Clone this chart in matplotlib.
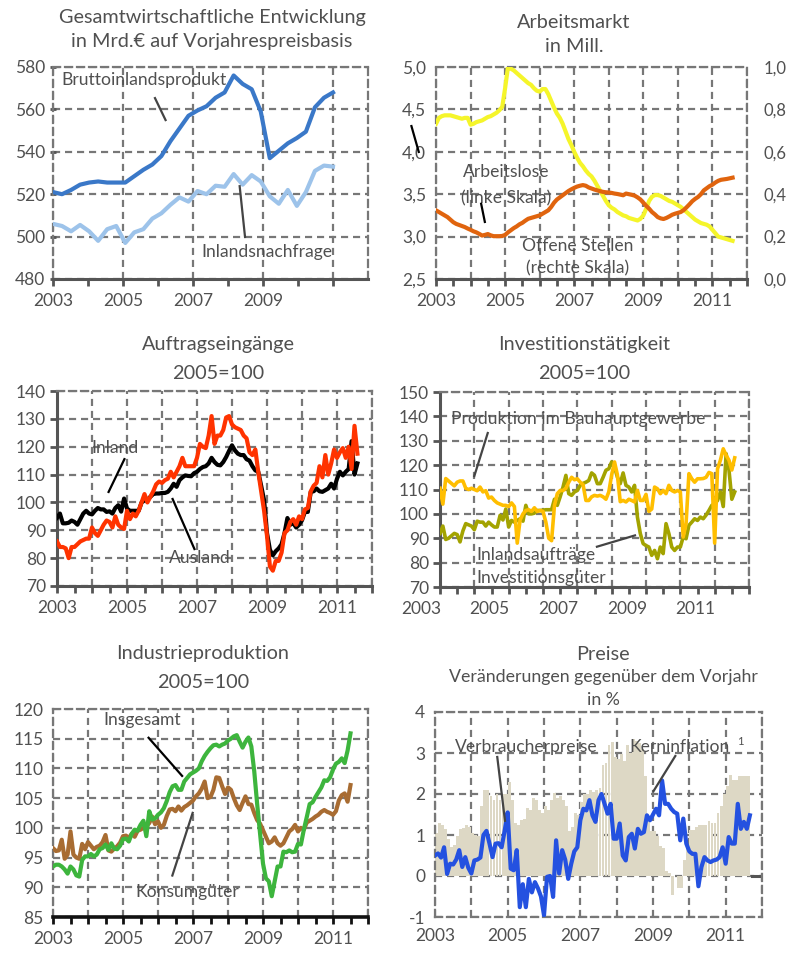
import numpy as np
import matplotlib
matplotlib.use("Agg")
import matplotlib.pyplot as plt
import matplotlib.transforms as mtrans

# ---------------- data ----------------
# Panel 1: quarterly 2003Q1..2010Q4, Mrd. EUR
bip = [521, 520, 522, 524.5, 525.5, 526, 525.5, 525.5, 525.5, 528.5, 531.5, 534,
       538, 545, 551, 557, 559.5, 561.5, 565.5, 568, 576, 572, 569.5, 559,
       537, 540.5, 544, 546.5, 549.5, 561, 565.5, 568]
inlandsnachfrage = [506, 505, 502.5, 505.5, 502.5, 498, 503.5, 505, 497, 502, 503.5, 508.5,
                    511, 515, 518.5, 516.5, 521.5, 520, 524, 523.5, 529.5, 524.5, 529, 526,
                    519, 515.5, 522, 514.5, 521, 531, 533.5, 533]

# Panel 2: monthly from Jan 2003, Mill.
arbeitslose = [4.33, 4.40, 4.42, 4.43, 4.43, 4.43, 4.42, 4.41, 4.40, 4.39, 4.40, 4.40,
               4.32, 4.33, 4.35, 4.36, 4.37, 4.39, 4.41, 4.42, 4.44, 4.46, 4.49, 4.53,
               4.75, 5.00, 4.98, 4.96, 4.93, 4.90, 4.87, 4.84, 4.81, 4.79, 4.75, 4.72,
               4.71, 4.74, 4.74, 4.68, 4.60, 4.52, 4.45, 4.40, 4.33, 4.24, 4.15, 4.08,
               4.00, 3.93, 3.87, 3.83, 3.78, 3.74, 3.71, 3.66, 3.60, 3.54, 3.48, 3.42,
               3.37, 3.34, 3.32, 3.29, 3.27, 3.25, 3.24, 3.22, 3.21, 3.20, 3.19, 3.21,
               3.25, 3.33, 3.42, 3.47, 3.49, 3.49, 3.48, 3.46, 3.44, 3.42, 3.41, 3.39,
               3.37, 3.35, 3.32, 3.29, 3.26, 3.23, 3.20, 3.18, 3.16, 3.15, 3.14, 3.12,
               3.08, 3.04, 3.00, 2.99, 2.98, 2.97, 2.96, 2.95]
offene_stellen = [0.324, 0.316, 0.308, 0.300, 0.292, 0.280, 0.268, 0.260, 0.255, 0.250, 0.245, 0.238,
                  0.232, 0.225, 0.220, 0.213, 0.205, 0.208, 0.212, 0.206, 0.202, 0.202, 0.202, 0.203,
                  0.208, 0.220, 0.230, 0.240, 0.248, 0.258, 0.265, 0.275, 0.284, 0.288, 0.292, 0.296,
                  0.300, 0.308, 0.316, 0.324, 0.340, 0.360, 0.375, 0.385, 0.395, 0.405, 0.415, 0.423,
                  0.430, 0.436, 0.440, 0.443, 0.440, 0.432, 0.427, 0.422, 0.418, 0.414, 0.411, 0.409,
                  0.408, 0.406, 0.403, 0.401, 0.398, 0.395, 0.403, 0.400, 0.397, 0.393, 0.385, 0.375,
                  0.360, 0.345, 0.332, 0.316, 0.305, 0.292, 0.286, 0.283, 0.288, 0.295, 0.303, 0.308,
                  0.312, 0.316, 0.325, 0.338, 0.352, 0.367, 0.378, 0.387, 0.400, 0.418, 0.428, 0.438,
                  0.445, 0.455, 0.463, 0.468, 0.470, 0.472, 0.475, 0.478]

# Panel 3: monthly, 2005=100
auftr_inland = [94.5, 96, 92.5, 92.5, 92.7, 93.5, 93, 92, 94, 96, 97, 96,
                95.7, 97, 98, 97.5, 97.5, 96.6, 96.8, 96, 98, 99, 96.7, 101.4,
                97.8, 97, 97, 97, 97, 100, 100.8, 101, 102, 103, 103.2, 103.2,
                103.4, 103.4, 103.8, 105, 106.7, 105.6, 108, 109, 109.7, 109.5, 109.4, 110.5,
                111, 112, 112.7, 113, 114, 116, 114.5, 113.5, 113.3, 114.5, 116.3, 118.5,
                120.5, 118.7, 117.5, 117, 117, 115.5, 115, 113, 111.5, 111, 106, 100.8,
                89, 83, 81, 82.5, 83.5, 85, 89, 94.4, 92, 92.6, 91, 92,
                93.6, 96.6, 96.6, 103.8, 104, 105, 104, 103.8, 104.4, 105, 106.7, 105,
                108.5, 111, 109.7, 111, 112, 122, 110, 114]
auftr_ausland = [86, 84, 84, 83.5, 80, 84, 84, 85, 86, 86.5, 87, 87,
                 91, 89, 88, 90, 92, 93.5, 93, 91, 95, 92, 91, 90.5,
                 97, 94, 96, 95, 97, 100, 103, 100, 102, 104, 106.5, 107.5,
                 107, 108, 108.5, 111, 109, 111, 113, 116, 113, 113, 113, 113,
                 116, 121, 120, 119.5, 124, 131, 121, 124, 124, 126, 130.5, 131,
                 128, 127, 126.5, 126, 124, 123, 118, 117, 119, 111, 104, 97,
                 88, 77, 75.5, 79, 79, 82, 89, 90, 93, 94, 92, 95,
                 94, 97.5, 98, 104, 106, 107, 113, 109, 117, 110, 114, 119,
                 116, 118, 119.5, 116, 120, 112, 127.5, 117.5]

# Panel 4: monthly, 2005=100
bau = [110.5, 104, 114.5, 113.5, 112.5, 111.5, 113, 113.5, 113.5, 110.5, 110, 110.5,
       110, 109.5, 111, 109, 109.5, 106.5, 106.9, 105.5, 104.5, 104, 103.5, 103.5,
       103, 104.5, 103, 88, 97.5, 100, 101.4, 101.7, 101, 102.5, 101, 101.4,
       101, 96.6, 90, 89, 103.5, 108.3, 109.6, 109.6, 110.5, 113, 115, 114,
       114.4, 113, 112, 105.5, 105.5, 107, 107.6, 107.3, 107.6, 107, 106, 109,
       116, 121.3, 116, 105, 105.5, 104.9, 106, 105.5, 104.9, 109.6, 105.5, 105.5,
       108, 101, 102, 111, 110.3, 108.3, 109.6, 108.3, 111.7, 109.6, 109, 109.6,
       109, 90.5, 96, 116.5, 114.4, 113, 114.4, 114.4, 114.5, 115, 117, 116.5,
       88, 118.5, 122, 126.7, 124, 122, 118, 123]
inv_auftraege = [92, 95, 89.5, 90, 91, 92, 91.5, 88.5, 93, 96, 95.5, 95,
                 93.5, 97, 96.6, 96.6, 95, 96.6, 95.5, 94.6, 94.6, 99.4, 97.5, 102,
                 94.6, 97.3, 96.6, 97.3, 98, 97, 103.5, 100, 100, 100.3, 101.4, 101.4,
                 101.5, 101.7, 101.7, 101.7, 106, 103.5, 107, 111, 115.8, 108.3, 107.6, 109,
                 109.6, 111.7, 112.5, 113, 113.7, 116.8, 115.8, 112.4, 112.4, 115, 117.9, 118.5,
                 121.3, 119.2, 115.1, 112.4, 116.8, 111.7, 111, 109, 111.7, 98.7, 92, 87.8,
                 87, 86.4, 83, 85, 81.6, 86.4, 83.7, 96, 91.9, 86.4, 85, 86.4,
                 86.4, 90.5, 89.8, 95.3, 96.6, 98, 97.3, 98.7, 98, 99.5, 101.4, 103.5,
                 104.2, 105.5, 109, 103, 124.7, 118, 106, 109]

# Panel 5: monthly, 2005=100
ip_insgesamt = [93.5, 93.8, 93.8, 93.5, 93, 92.3, 93.5, 93, 92, 91.8, 94.6, 95.2,
                95.2, 95.6, 95.2, 95.5, 96.4, 96.6, 97.2, 96.3, 97.4, 96.5, 96.4, 97,
                98.1, 98.2, 97.7, 99, 99.7, 99.5, 100.5, 101.2, 98.6, 102.8, 101.4, 101.6,
                102.2, 102.6, 103.3, 104.5, 106, 107, 107.2, 106.4, 106.4, 107.8, 108.4, 109,
                109.3, 109.6, 110, 111.2, 112.1, 112.8, 113.4, 113.9, 114, 113.7, 114, 114.2,
                114.7, 115, 115.4, 115.6, 114.5, 113.5, 114.5, 115.2, 113.7, 109.5, 104, 99,
                94, 91.5, 91, 88.5, 91, 93.5, 93.5, 96, 95.9, 96.2, 95.9, 96,
                97.3, 97.2, 99.7, 101.8, 104, 104.3, 105.2, 106, 106.8, 108, 107.9, 108.5,
                109.8, 110.8, 111.1, 111.7, 110.9, 113, 115.9]
ip_konsum = [96.6, 96.1, 96.2, 98, 94.8, 95.5, 99.4, 95.5, 95, 94.8, 97.3, 96.4,
             97.6, 97, 96.4, 96.8, 97, 97.6, 98.8, 96.2, 96, 96.5, 96.9, 97.5,
             98.6, 98.7, 98.3, 99, 98.5, 99.5, 99.7, 100, 100.3, 100.8, 101.9, 100.6,
             101.1, 100, 100.5, 102, 103.1, 103.2, 102.8, 103.6, 102.9, 103.5, 103.8, 104.2,
             104.6, 105.3, 105.8, 106.6, 107.8, 105, 105.2, 106.4, 108.5, 108.4, 107, 105.7,
             106.8, 106.4, 105, 103.8, 103, 104.2, 105.3, 104, 103.9, 102.5, 101.3, 100.7,
             99.6, 98.5, 97.4, 97.7, 98.4, 97.4, 97, 97.4, 98.4, 99.4, 99.8, 100.5,
             99.4, 100, 99.7, 100.9, 101.2, 101.5, 101.9, 102.2, 102.7, 103, 102.7, 102.5,
             102.2, 102.8, 104.6, 105.5, 105.8, 104.4, 107.2]

# Panel 6: monthly, % yoy
verbraucherpreise = [1.05, 1.3, 1.25, 1.15, 0.9, 0.7, 0.75, 0.97, 1.15, 1.17, 1.25, 1.2,
                     1.05, 1.0, 0.97, 1.7, 2.1, 2.1, 1.95, 1.85, 2.0, 1.86, 2.0, 2.0,
                     2.3, 1.86, 1.3, 1.25, 1.37, 1.4, 1.66, 1.62, 1.9, 1.85, 1.6, 1.54,
                     1.7, 1.6, 1.85, 2.02, 1.9, 1.95, 1.85, 1.7, 1.09, 1.2, 1.54, 1.5,
                     1.8, 2.0, 2.0, 2.1, 2.05, 2.1, 2.15, 2.7, 2.75, 3.2, 3.28, 2.9,
                     2.85, 2.97, 2.8, 3.2, 3.0, 3.33, 3.3, 3.25, 3.1, 2.45, 1.4, 1.09,
                     1.09, 0.97, 0.72, 0.68, 0.11, 0.07, -0.46, 0.0, -0.29, -0.29, 0.4, 0.68,
                     1.13, 1.13, 1.2, 1.25, 1.25, 1.25, 1.33, 1.3, 1.3, 1.54, 1.7, 2.0,
                     2.19, 2.47, 2.35, 2.35, 2.43, 2.43, 2.43, 2.43]
kerninflation = [0.5, 0.55, 0.45, 0.7, 0.05, 0.3, 0.28, 0.4, 0.63, 0.22, 0.46, 0.2,
                 0.06, 0.38, 0.4, 0.45, 1.0, 1.1, 0.79, 0.46, 0.79, 0.8, 0.7, 1.1,
                 1.55, 0.18, 0.14, 0.63, -0.76, -0.2, -0.76, -0.07, -0.4, -0.15, -0.3, -0.5,
                 -0.96, -0.02, 0.0, -0.51, 0.87, 0.06, 0.63, 0.4, -0.07, 0.3, 0.6, 0.7,
                 1.36, 1.64, 1.6, 1.85, 1.48, 1.32, 1.85, 2.0, 1.76, 1.52, 1.76, 0.91,
                 0.91, 1.28, 0.5, 0.38, 0.95, 1.03, 0.67, 1.15, 1.03, 1.07, 1.48, 1.36,
                 1.5, 1.64, 1.48, 2.33, 1.76, 1.76, 1.64, 1.56, 1.52, 0.87, 1.4, 0.79,
                 0.6, 0.54, 0.54, -0.25, 0.22, 0.46, 0.38, 0.34, 0.38, 0.4, 0.46, 0.7,
                 0.3, 0.95, 0.79, 0.79, 1.76, 1.15, 1.32, 1.15, 1.48]

year_labels = ["2003", "2005", "2007", "2009", "2011"]

# ---------------- style ----------------
plt.rcParams['font.family'] = ['Lato', 'DejaVu Sans']
TXT = '#505050'
GRID = '#777777'
DASH = (0, (3.2, 2.2))
TICK_FS = 12.5
NOTE_FS = 12.6
TITLE_FS = 14.3

fig = plt.figure(figsize=(7.92, 9.56), dpi=100)
W, H = 792.0, 956.0


def add_ax(l, r, t, b):
    return fig.add_axes([l / W, 1 - b / H, (r - l) / W, (b - t) / H])


def monthly(vals):
    return 2003 + np.arange(len(vals)) / 12.0


def style(ax, xlim, ylim, yticks, ylabels, left_solid, bottom_solid=True,
          bottom_color='#555555', bottom_lw=2.2, left_ticks=False, half_year=True,
          left_tick_dir='out'):
    ax.set_xlim(*xlim)
    ax.set_ylim(*ylim)
    ax.set_yticks(yticks)
    ax.set_yticklabels(ylabels)
    ax.set_xticks(range(2003, 2013))
    ax.set_xticklabels([str(y) if y % 2 == 1 and y < 2012 else '' for y in range(2003, 2013)])
    if half_year:
        ax.set_xticks(np.arange(2003.5, 2012, 1.0), minor=True)
    ax.grid(True, which='major', color=GRID, linestyle=DASH, linewidth=1.6, zorder=0)
    for s in ['top', 'right']:
        ax.spines[s].set_color(GRID)
        ax.spines[s].set_linestyle(DASH)
        ax.spines[s].set_linewidth(1.6)
    if left_solid:
        ax.spines['left'].set_color('#555555')
        ax.spines['left'].set_linewidth(2.2)
    else:
        ax.spines['left'].set_color(GRID)
        ax.spines['left'].set_linestyle(DASH)
        ax.spines['left'].set_linewidth(1.6)
    if bottom_solid:
        ax.spines['bottom'].set_color(bottom_color)
        ax.spines['bottom'].set_linewidth(bottom_lw)
        ax.tick_params(axis='x', which='both', direction='out', length=5, width=2,
                       color=bottom_color, labelsize=TICK_FS, labelcolor=TXT, pad=5)
    else:
        ax.spines['bottom'].set_color(GRID)
        ax.spines['bottom'].set_linestyle(DASH)
        ax.spines['bottom'].set_linewidth(1.6)
        ax.tick_params(axis='x', which='both', length=0, labelsize=TICK_FS, labelcolor=TXT, pad=8)
    if left_ticks:
        ax.tick_params(axis='y', direction=left_tick_dir, length=5, width=2, color='#555555',
                       labelsize=TICK_FS, labelcolor=TXT, pad=3)
    else:
        ax.tick_params(axis='y', length=0, labelsize=TICK_FS, labelcolor=TXT, pad=7)
    ax.set_axisbelow(True)


def title(x, y, s, size=TITLE_FS):
    fig.text(x / W, 1 - y / H, s, ha='center', va='center', fontsize=size, color=TXT)


def note(ax, x, y, s, ha='center', size=NOTE_FS):
    ax.text(x, y, s, ha=ha, va='center', fontsize=size, color=TXT, zorder=6)


def pointer(ax, x0, y0, x1, y1, color='#444444', clip=True):
    ax.plot([x0, x1], [y0, y1], color=color, lw=1.6, zorder=7, clip_on=clip,
            solid_capstyle='butt')


# ---------------- Panel 1 ----------------
ax1 = add_ax(53, 368, 67, 279)
xq = 2003 + np.arange(len(bip)) * 8.0 / (len(bip) - 1)
ax1.plot(xq, inlandsnachfrage, color='#9dc3ea', lw=3.0, zorder=3)
ax1.plot(xq, bip, color='#3a78c8', lw=3.0, zorder=4)
style(ax1, (2003, 2011), (480, 580), range(480, 581, 20), [str(v) for v in range(480, 581, 20)],
      left_solid=False, left_ticks=True, half_year=False, left_tick_dir='inout')
ax1.set_xticks([2003, 2005, 2007, 2009, 2011])
ax1.set_xticklabels(["2003", "2005", "2007", "2009", ""])
ax1.set_xticks([2004, 2006, 2008, 2010], minor=True)
title(212, 17, "Gesamtwirtschaftliche Entwicklung")
title(212, 42, "in Mrd.€ auf Vorjahrespreisbasis")
note(ax1, 2005.6, 573.9, "Bruttoinlandsprodukt")
pointer(ax1, 2005.9, 565.8, 2006.23, 554.5)
note(ax1, 2009.1, 492.7, "Inlandsnachfrage")
pointer(ax1, 2008.33, 524.3, 2008.49, 499.3)

# ---------------- Panel 2 ----------------
ax2 = add_ax(436, 747, 67, 279)
ax2.plot(monthly(arbeitslose), arbeitslose, color='#f5f52a', lw=3.0, zorder=3)
style(ax2, (2003, 2012), (2.5, 5.0), [2.5, 3.0, 3.5, 4.0, 4.5, 5.0],
      ["2,5", "3,0", "3,5", "4,0", "4,5", "5,0"], left_solid=False)
ax2b = ax2.twinx()
ax2b.plot(monthly(offene_stellen), offene_stellen, color='#e0640e', lw=3.0, zorder=4)
ax2b.set_ylim(0, 1.0)
ax2b.set_yticks([0, 0.2, 0.4, 0.6, 0.8, 1.0])
ax2b.set_yticklabels(["0,0", "0,2", "0,4", "0,6", "0,8", "1,0"])
ax2b.tick_params(axis='y', length=0, labelsize=TICK_FS - 0.5, labelcolor=TXT, pad=12)
for s in ax2b.spines.values():
    s.set_visible(False)
title(574, 22, "Arbeitsmarkt")
title(574, 47, "in Mill.")
note(ax2, 2005.03, 3.76, "Arbeitslose")
note(ax2, 2005.03, 3.455, "(linke Skala)")
pointer(ax2, 2004.30, 3.40, 2004.42, 3.16, color='#000000')
pointer(ax2, 2002.28, 4.316, 2002.51, 3.986, color='#000000', clip=False)
note(ax2, 2007.11, 2.89, "Offene Stellen")
note(ax2, 2007.11, 2.63, "(rechte Skala)")

# ---------------- Panel 3 ----------------
ax3 = add_ax(57, 372, 391, 586)
ax3.plot(monthly(auftr_inland), auftr_inland, color='#000000', lw=3.0, zorder=3)
ax3.plot(monthly(auftr_ausland), auftr_ausland, color='#ff3300', lw=3.0, zorder=4)
style(ax3, (2003, 2012), (70, 140), range(70, 141, 10), [str(v) for v in range(70, 141, 10)],
      left_solid=True, left_ticks=True)
title(218, 345, "Auftragseingänge")
title(218, 373, "2005=100")
note(ax3, 2004.66, 119.5, "Inland")
pointer(ax3, 2004.94, 115.9, 2004.46, 103.4, color='#000000')
note(ax3, 2007.09, 80.1, "Ausland")
pointer(ax3, 2006.29, 101.6, 2006.94, 82.9, color='#000000')

# ---------------- Panel 4 ----------------
ax4 = add_ax(440, 749, 392, 587)
ax4.plot(monthly(inv_auftraege), inv_auftraege, color='#a3a300', lw=2.6, zorder=3)
ax4.plot(monthly(bau), bau, color='#ffbe00', lw=2.6, zorder=4)
style(ax4, (2003, 2012), (70, 150), range(70, 151, 10), [str(v) for v in range(70, 151, 10)],
      left_solid=True, left_ticks=True)
shift = mtrans.ScaledTranslation(-0.19, 0, fig.dpi_scale_trans)
for lab in ax4.get_xticklabels():
    lab.set_transform(lab.get_transform() + shift)
title(584, 345, "Investitionstätigkeit")
title(584, 373, "2005=100")
note(ax4, 2007.02, 138.9, "Produktion im Bauhauptgewerbe")
pointer(ax4, 2004.40, 133.6, 2003.99, 115.1)
note(ax4, 2004.05, 83.1, "Inlandsaufträge", ha='left')
note(ax4, 2004.05, 73.7, "Investitionsgüter", ha='left')
pointer(ax4, 2007.54, 86.4, 2008.71, 91.3)

# ---------------- Panel 5 ----------------
ax5 = add_ax(53, 368, 709, 917)
ax5.plot(monthly(ip_konsum), ip_konsum, color='#a86c32', lw=3.0, zorder=3)
ax5.plot(monthly(ip_insgesamt), ip_insgesamt, color='#3db53d', lw=3.0, zorder=4)
style(ax5, (2003, 2012), (85, 120), range(85, 121, 5), [str(v) for v in range(85, 121, 5)],
      left_solid=False, bottom_color='#111111', bottom_lw=2.6)
title(203, 654, "Industrieproduktion")
title(203, 682, "2005=100")
note(ax5, 2005.54, 118.15, "Insgesamt")
pointer(ax5, 2005.71, 115.3, 2006.71, 108.6, color='#000000')
note(ax5, 2006.83, 89.2, "Konsumgüter")
pointer(ax5, 2007.0, 102.7, 2006.4, 91.8)

# ---------------- Panel 6 ----------------
ax6 = add_ax(435, 762, 712, 917)
ax6.bar(monthly(verbraucherpreise), verbraucherpreise, width=0.96 / 12, align='edge',
        color='#ddd8c5', zorder=2, linewidth=0)
ax6.plot(monthly(kerninflation), kerninflation, color='#2451e0', lw=3.0, zorder=4)
style(ax6, (2003, 2012), (-1, 4), [-1, 0, 1, 2, 3, 4], ["-1", "0", "1", "2", "3", "4"],
      left_solid=False, bottom_solid=False, half_year=False)
ax6.axhline(0, xmin=0.968, xmax=0.99, color='#555555', lw=2.2, zorder=3)
title(603, 654, "Preise")
title(603, 677, "Veränderungen gegenüber dem Vorjahr", size=12.8)
title(603, 700, "in %", size=12.8)
note(ax6, 2005.50, 3.15, "Verbraucherpreise")
pointer(ax6, 2004.71, 2.93, 2004.93, 1.32)
note(ax6, 2009.72, 3.15, "Kerninflation")
note(ax6, 2011.40, 3.27, "1", size=8)
pointer(ax6, 2009.63, 2.95, 2009.0, 2.05)

fig.savefig("out.png", dpi=100, facecolor='white')
